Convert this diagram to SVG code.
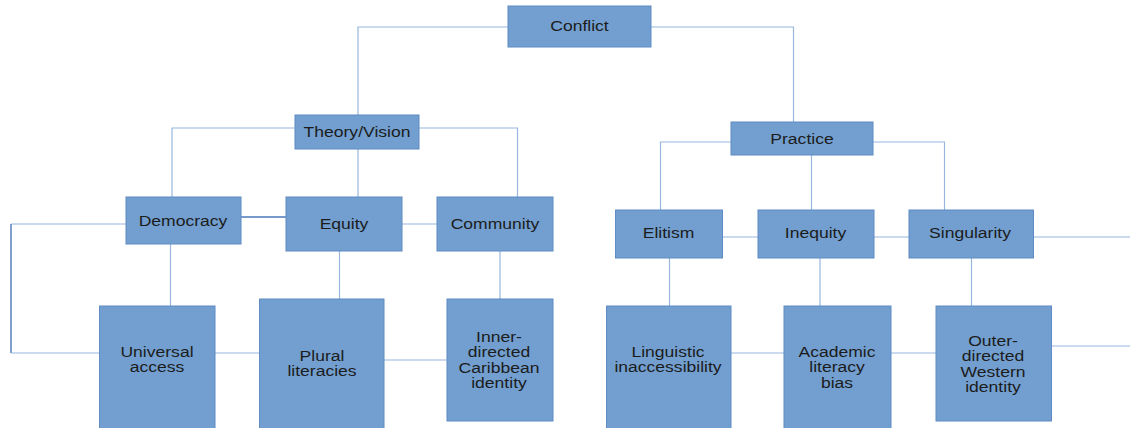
<svg xmlns="http://www.w3.org/2000/svg" width="1130" height="428" viewBox="0 0 1130 428">
<style>
.box{fill:#729fcf;stroke:#5f8cc4;stroke-width:1}
.t{font-family:"Liberation Sans",Arial,sans-serif;font-size:15px;fill:#1c1c1c;text-anchor:middle}
.c{fill:none;stroke:#98b6de;stroke-width:1.2}
.d{fill:none;stroke:#4a78b8;stroke-width:1.4}
</style>
<rect width="1130" height="428" fill="#ffffff"/>
<g id="connectors">
<path class="c" d="M508 27H358V115"/>
<path class="c" d="M651 27H793.5V122"/>
<path class="c" d="M295 128H172V197"/>
<path class="c" d="M419 128H517.5V197"/>
<path class="c" d="M358 149V197"/>
<path class="c" d="M731 142H660.5V210"/>
<path class="c" d="M873 142H944.5V210"/>
<path class="c" d="M811.5 155V210"/>
<path class="d" d="M241 217H286"/>
<path class="c" d="M402 224H437"/>
<path class="c" d="M126 224H11"/>
<path class="d" d="M11 224V353"/>
<path class="c" d="M11 353H99.5"/>
<path class="c" d="M170.5 244V306"/>
<path class="c" d="M339.5 251V299"/>
<path class="c" d="M500 251V299"/>
<path class="c" d="M215 353H259.5"/>
<path class="c" d="M384 360H447"/>
<path class="c" d="M722.5 237H758"/>
<path class="c" d="M874 237H909"/>
<path class="c" d="M1033.5 237H1130"/>
<path class="c" d="M669.5 258V306"/>
<path class="c" d="M820 258V306"/>
<path class="c" d="M971.5 258V306"/>
<path class="c" d="M731 353H784"/>
<path class="c" d="M891 353H936"/>
<path class="c" d="M1051.5 346H1130"/>
</g>
<g id="conflict"><rect class="box" x="508" y="6" width="143" height="41"/><text class="t" transform="translate(579.5,31) scale(1.17,1)">Conflict</text></g>
<g id="theory"><rect class="box" x="295" y="115" width="124" height="34"/><text class="t" transform="translate(357,137) scale(1.17,1)">Theory/Vision</text></g>
<g id="practice"><rect class="box" x="731" y="122" width="142" height="33"/><text class="t" transform="translate(802,144) scale(1.17,1)">Practice</text></g>
<g id="democracy"><rect class="box" x="126" y="197" width="115" height="47"/><text class="t" transform="translate(183,226) scale(1.17,1)">Democracy</text></g>
<g id="equity"><rect class="box" x="286" y="197" width="116" height="54"/><text class="t" transform="translate(344,229) scale(1.17,1)">Equity</text></g>
<g id="community"><rect class="box" x="437" y="197" width="116" height="54"/><text class="t" transform="translate(495,229) scale(1.17,1)">Community</text></g>
<g id="elitism"><rect class="box" x="615.5" y="210" width="107" height="48"/><text class="t" transform="translate(668.5,238) scale(1.17,1)">Elitism</text></g>
<g id="inequity"><rect class="box" x="758" y="210" width="116" height="48"/><text class="t" transform="translate(815.5,238) scale(1.17,1)">Inequity</text></g>
<g id="singularity"><rect class="box" x="909" y="210" width="124.5" height="48"/><text class="t" transform="translate(970,238) scale(1.17,1)">Singularity</text></g>
<g id="universal"><rect class="box" x="99.5" y="306" width="115.5" height="126"/><text class="t" transform="translate(157,357) scale(1.17,1)"><tspan x="0" y="0">Universal</tspan><tspan x="0" y="15.3">access</tspan></text></g>
<g id="plural"><rect class="box" x="259.5" y="299" width="124.5" height="133"/><text class="t" transform="translate(322,361) scale(1.17,1)"><tspan x="0" y="0">Plural</tspan><tspan x="0" y="15.3">literacies</tspan></text></g>
<g id="inner"><rect class="box" x="447" y="299" width="106" height="122"/><text class="t" transform="translate(499,342) scale(1.17,1)"><tspan x="0" y="0">Inner-</tspan><tspan x="0" y="15.3">directed</tspan><tspan x="0" y="30.6">Caribbean</tspan><tspan x="0" y="45.9">identity</tspan></text></g>
<g id="linguistic"><rect class="box" x="606.5" y="306" width="124.5" height="126"/><text class="t" transform="translate(668,357) scale(1.17,1)"><tspan x="0" y="0">Linguistic</tspan><tspan x="0" y="15.3">inaccessibility</tspan></text></g>
<g id="academic"><rect class="box" x="784" y="306" width="107" height="126"/><text class="t" transform="translate(837,357) scale(1.17,1)"><tspan x="0" y="0">Academic</tspan><tspan x="0" y="15.3">literacy</tspan><tspan x="0" y="30.6">bias</tspan></text></g>
<g id="outer"><rect class="box" x="936" y="306" width="115.5" height="115"/><text class="t" transform="translate(993,346) scale(1.17,1)"><tspan x="0" y="0">Outer-</tspan><tspan x="0" y="15.3">directed</tspan><tspan x="0" y="30.6">Western</tspan><tspan x="0" y="45.9">identity</tspan></text></g>
</svg>
